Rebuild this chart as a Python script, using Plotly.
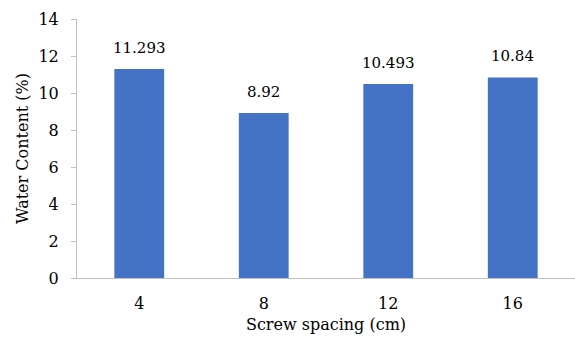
import plotly.graph_objects as go

spacing = ["4", "8", "12", "16"]
water_content = [11.293, 8.92, 10.493, 10.84]
value_labels = ["11.293", "8.92", "10.493", "10.84"]
y_ticks = [0, 2, 4, 6, 8, 10, 12, 14]

SERIF = "DejaVu Serif"

fig = go.Figure(
    go.Bar(
        x=spacing,
        y=water_content,
        marker=dict(color="#4472C4", line=dict(width=0)),
        hoverinfo="skip",
    )
)

# value labels above each bar (category positions by index)
for i, (val, lab) in enumerate(zip(water_content, value_labels)):
    fig.add_annotation(
        x=i, y=val, text=lab, showarrow=False,
        yanchor="bottom", yshift=10,
        font=dict(family=SERIF, size=15, color="#000000"),
    )

fig.update_layout(
    width=575,
    height=343,
    margin=dict(l=77, r=0, t=19, b=65),
    paper_bgcolor="white",
    plot_bgcolor="white",
    bargap=0.6,
    showlegend=False,
    font=dict(family=SERIF, size=16, color="#000000"),
)

fig.update_xaxes(
    type="category",
    showline=True,
    linecolor="#BFBFBF",
    linewidth=1,
    ticks="",
    showgrid=False,
    ticklabelstandoff=11,
    tickfont=dict(family=SERIF, size=16),
    title=dict(text="Screw spacing (cm)", font=dict(family=SERIF, size=16), standoff=6),
)

fig.update_yaxes(
    range=[0, 14],
    tickvals=y_ticks,
    showline=True,
    linecolor="#BFBFBF",
    linewidth=1,
    ticks="outside",
    ticklen=5,
    tickcolor="#BFBFBF",
    showgrid=False,
    zeroline=False,
    ticklabelstandoff=9,
    tickfont=dict(family=SERIF, size=16),
    title=dict(text="Water Content (%)", font=dict(family=SERIF, size=16), standoff=5),
)

fig.write_html("out.html")
